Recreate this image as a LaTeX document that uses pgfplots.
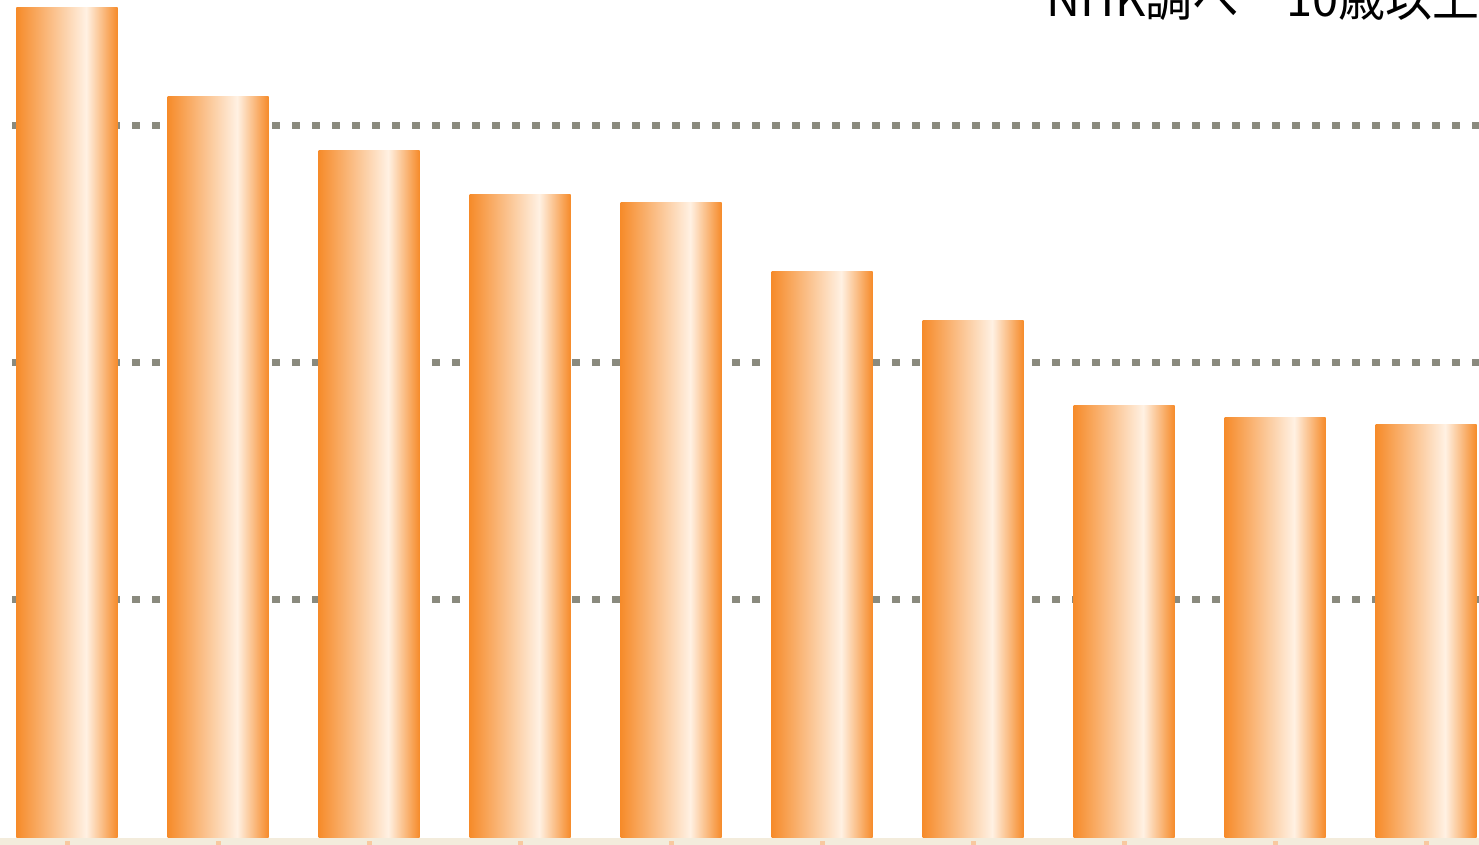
\documentclass[border=0pt]{standalone}
\usepackage{pgfplots}
\pgfplotsset{compat=1.18}
\usepackage{fontspec}
\newfontfamily\cjk{Noto Sans CJK JP}
\definecolor{barorange}{HTML}{F68B2A}
\definecolor{barlight}{HTML}{FFF1E3}
\definecolor{gridgray}{HTML}{8A8A7E}
\definecolor{stripbeige}{HTML}{F3ECDC}
\definecolor{tickorange}{HTML}{F8C9A0}
\pgfdeclarehorizontalshading{barshade}{100bp}{color(0bp)=(barorange); color(25bp)=(barorange); color(59.5bp)=(barlight); color(75bp)=(barorange); color(100bp)=(barorange)}
\pgfplotsset{
  mybar/.style={ybar, bar width=50.5pt, bar shift=0pt, draw=none, shading=barshade, forget plot},
  mygrid/.style={gridgray, line width=3.5pt, dash pattern=on 4pt off 6pt, forget plot},
}
\begin{document}
\begin{tikzpicture}
\begin{axis}[
  at={(0,0)}, anchor=south west,
  scale only axis, width=739.5pt, height=422.5pt,
  xmin=-0.4437, xmax=9.351, ymin=-0.589, ymax=70.539,
  axis lines=none,
  xtick=\empty, ytick=\empty,
  clip=true,
]
\fill[stripbeige] (axis cs:-0.4437,-0.589) rectangle (axis cs:9.351,0);
\addplot[mygrid] coordinates {(-0.364,20.1) (9.351,20.1)};
\addplot[mygrid] coordinates {(-0.364,40) (9.351,40)};
\addplot[mygrid] coordinates {(-0.364,60) (9.351,60)};
\addplot[mybar] coordinates {(0,69.9)};
\addplot[mybar] coordinates {(1,62.4)};
\addplot[mybar] coordinates {(2,57.9)};
\addplot[mybar] coordinates {(3,54.2)};
\addplot[mybar] coordinates {(4,53.5)};
\addplot[mybar] coordinates {(5,47.7)};
\addplot[mybar] coordinates {(6,43.6)};
\addplot[mybar] coordinates {(7,36.4)};
\addplot[mybar] coordinates {(8,35.4)};
\addplot[mybar] coordinates {(9,34.8)};
\addplot[only marks, mark=square*, mark size=1pt, tickorange, forget plot] coordinates {
  (0,-0.42) (1,-0.42) (2,-0.42) (3,-0.42) (4,-0.42)
  (5,-0.42) (6,-0.42) (7,-0.42) (8,-0.42) (9,-0.42)
};
\end{axis}
\node[anchor=base east, inner sep=0pt, font=\cjk\fontsize{23.5}{28}\selectfont] at (740pt,414pt) {NHK調べ　10歳以上};
\pgfresetboundingbox
\path[use as bounding box] (0,0) rectangle (739.5pt,422.5pt);
\end{tikzpicture}
\end{document}
